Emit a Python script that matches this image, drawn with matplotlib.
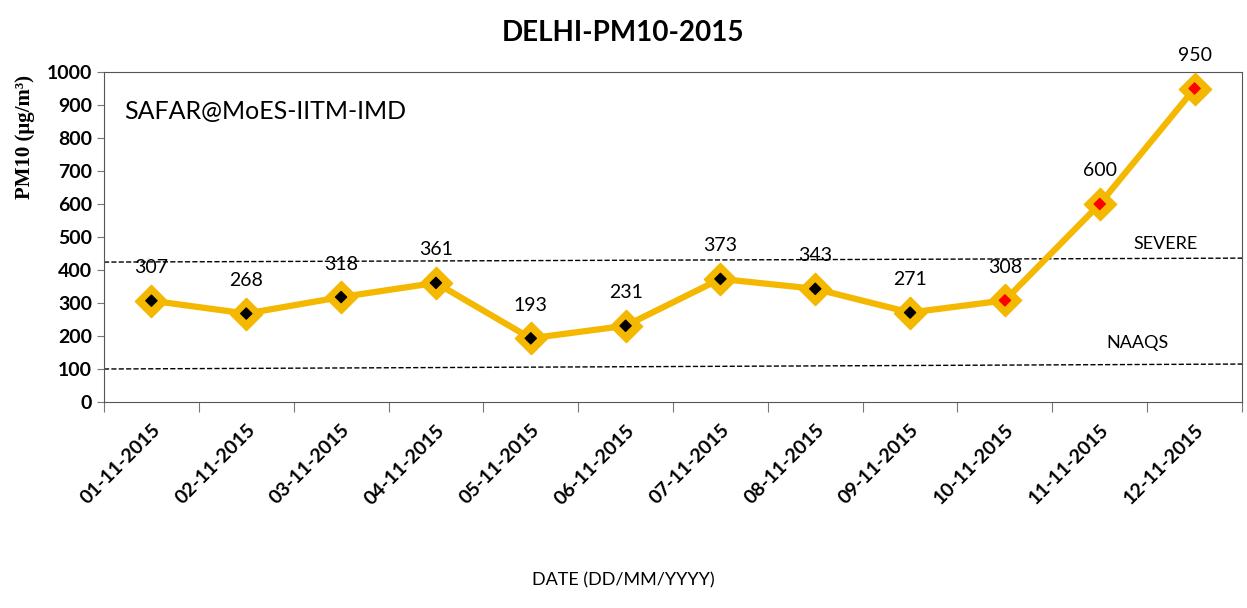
import matplotlib.pyplot as plt
import numpy as np

dates = ["01-11-2015", "02-11-2015", "03-11-2015", "04-11-2015", "05-11-2015", "06-11-2015",
         "07-11-2015", "08-11-2015", "09-11-2015", "10-11-2015", "11-11-2015", "12-11-2015"]
pm10 = [307, 268, 318, 361, 193, 231, 373, 343, 271, 308, 600, 950]
inner_colors = ["black"] * 9 + ["red"] * 3
severe = [424, 436]
naaqs = [100, 115]

plt.rcParams['font.family'] = ['Lato', 'DejaVu Sans']

fig = plt.figure(figsize=(12.47, 6.08), dpi=100)
ax = fig.add_axes([104 / 1247, 1 - 402 / 608, (1242 - 104) / 1247, (402 - 72) / 608])

x = np.arange(len(dates))
col = "#F4B800"
ax.plot(x, pm10, color=col, lw=4.5, zorder=3)
ax.scatter(x, pm10, marker="D", s=270, color=col, zorder=4)
ax.scatter(x, pm10, marker="D", s=32, c=inner_colors, zorder=5)

for xi, v in zip(x, pm10):
    ax.text(xi, v + 100, str(v), ha="center", va="center", fontsize=14)

ax.plot([-0.5, 11.5], severe, ls="--", color="black", lw=1, zorder=2)
ax.plot([-0.5, 11.5], naaqs, ls="--", color="black", lw=1, zorder=2)
ax.text(10.69, 480, "SEVERE", ha="center", va="center", fontsize=13)
ax.text(10.4, 180, "NAAQS", ha="center", va="center", fontsize=13)
ax.text(-0.29, 880, "SAFAR@MoES-IITM-IMD", fontsize=18, ha="left", va="center")

ax.set_xlim(-0.5, 11.5)
ax.set_ylim(0, 1000)
ax.set_yticks(np.arange(0, 1001, 100))
ax.tick_params(axis="y", labelsize=14, length=5, direction="out", color="#777777")
for lab in ax.get_yticklabels():
    lab.set_fontweight("bold")

ax.set_xticks(np.arange(-0.5, 12, 1))
ax.set_xticklabels([])
ax.set_xticks(x, minor=True)
ax.set_xticklabels(dates, minor=True, rotation=45, ha="right", rotation_mode="anchor",
                   fontsize=14, fontweight="bold")
ax.tick_params(axis="x", which="major", length=7, color="#777777")
ax.tick_params(axis="x", which="minor", length=0, pad=14)

for s in ax.spines.values():
    s.set_color("#555555")

fig.text(25 / 1247, 1 - 137 / 608, "PM10 (μg/m³)", rotation=90, ha="center", va="center",
         fontsize=15, fontweight="bold", family="Liberation Serif")
fig.text(0.5, 1 - 580 / 608, "DATE (DD/MM/YYYY)", ha="center", va="center", fontsize=13)
fig.text(0.5, 1 - 33 / 608, "DELHI-PM10-2015", ha="center", va="center", fontsize=20, fontweight="bold")

fig.savefig("out.png", dpi=100)
